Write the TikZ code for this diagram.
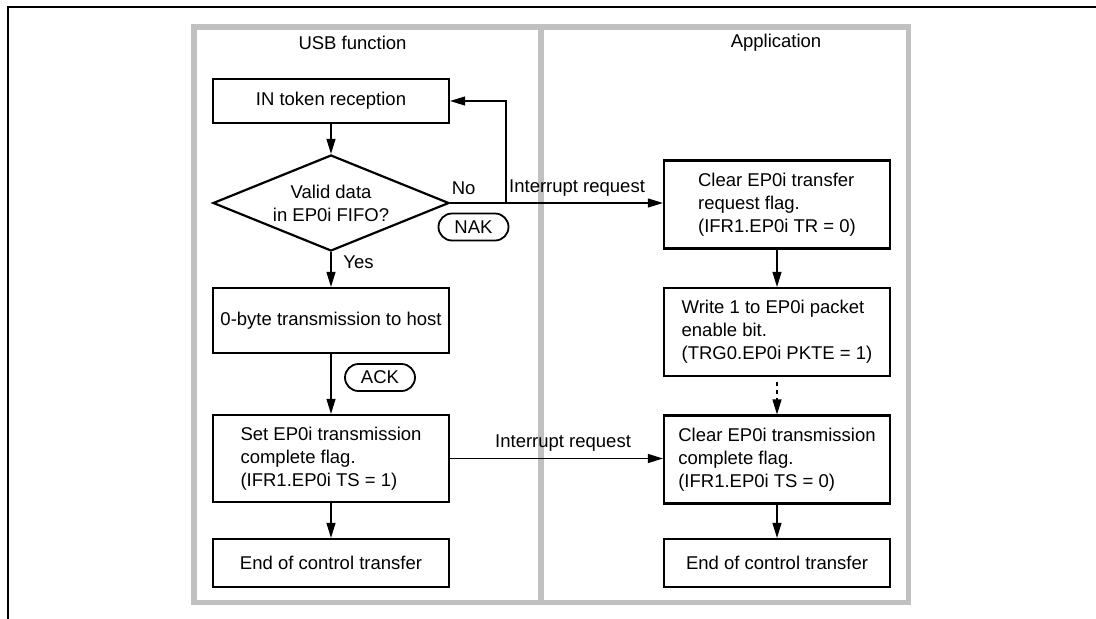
\documentclass[tikz,border=0pt]{standalone}
\usepackage{fontspec}
\setmainfont{Liberation Sans}
\usetikzlibrary{arrows.meta,shapes.geometric}
\definecolor{lanegray}{RGB}{192,192,192}
\tikzset{
  txt/.style={font=\fontsize{18.5}{23}\selectfont, inner sep=0pt},
  box/.style={txt, draw, line width=2.2pt, align=left, minimum height=#1},
  lbox/.style={box=#1, minimum width=236pt},
  rbox/.style={box=#1, minimum width=226pt},
  oval/.style={txt, draw, line width=1.8pt, minimum width=70pt, minimum height=27pt, rounded corners=13.5pt},
  arr/.style={line width=1.2pt, -{Triangle[length=15pt,width=9pt]}},
  ln/.style={line width=1.2pt},
}
\begin{document}
\begin{tikzpicture}[x=1pt,y=-1pt]
\useasboundingbox (0,0) rectangle (1096,619);
% outer frame
\draw[line width=2pt] (7.5,619) -- (7.5,6.7) -- (1096,6.7);
% lanes
\draw[lanegray, line width=5.5pt] (194,27) rectangle (908.5,602.5);
\draw[lanegray, line width=5.5pt] (541,27) -- (541,602.5);
\node[txt] (h1) at (352.5,42.7) {USB function};
\node[txt] (h2) at (776,42.7) {Application};
% left column
\node[lbox=44pt] (in) at (331,101) {IN token reception};
\node[txt, draw, line width=2.2pt, shape=diamond, aspect=2.46, minimum width=236pt, minimum height=96pt, align=center] (dia) at (331,203) {Valid data\\in EP0i FIFO?};
\node[lbox=65pt] (zero) at (331,320.5) {0-byte transmission to host};
\node[lbox=87pt] (set) at (331,458.5) {Set EP0i transmission\\complete flag.\\(IFR1.EP0i TS = 1)};
\node[lbox=48pt] (end1) at (331,563) {End of control transfer};
% right column
\node[rbox=88pt] (clr1) at (777,204.5) {Clear EP0i transfer\\request flag.\\(IFR1.EP0i TR = 0)};
\node[rbox=88pt] (wr) at (777,332) {Write 1 to EP0i packet\\enable bit.\\(TRG0.EP0i PKTE = 1)};
\node[rbox=88pt] (clr2) at (777,459.5) {Clear EP0i transmission\\complete flag.\\(IFR1.EP0i TS = 0)};
\node[rbox=48pt] (end2) at (777,563) {End of control transfer};
% labels
\node[txt] (no) at (463.7,188) {No};
\node[txt] (yes) at (358.5,262) {Yes};
\node[oval] (nak) at (473.5,227) {NAK};
\node[oval] (ack) at (380,377.5) {ACK};
\node[txt, anchor=west] (ir1) at (509,188) {Interrupt request};
\node[txt, anchor=west] (ir2) at (495,443) {Interrupt request};
% connectors
\draw[arr] (in) -- (dia);
\draw[arr] (dia) -- (zero);
\draw[arr] (zero) -- (set);
\draw[arr] (set) -- (end1);
\draw[arr] (dia.east) -- (clr1.west |- dia.east);
\coordinate (br) at (506,203);
\draw[arr] (br) |- (in.east);
\draw[arr] (set.east) -- (clr2.west |- set.east);
\draw[arr] (clr1) -- (wr);
\draw[arr, dash pattern=on 4pt off 4pt, shorten <=5pt] (wr) -- (clr2);
\draw[arr] (clr2) -- (end2);
\end{tikzpicture}
\end{document}
